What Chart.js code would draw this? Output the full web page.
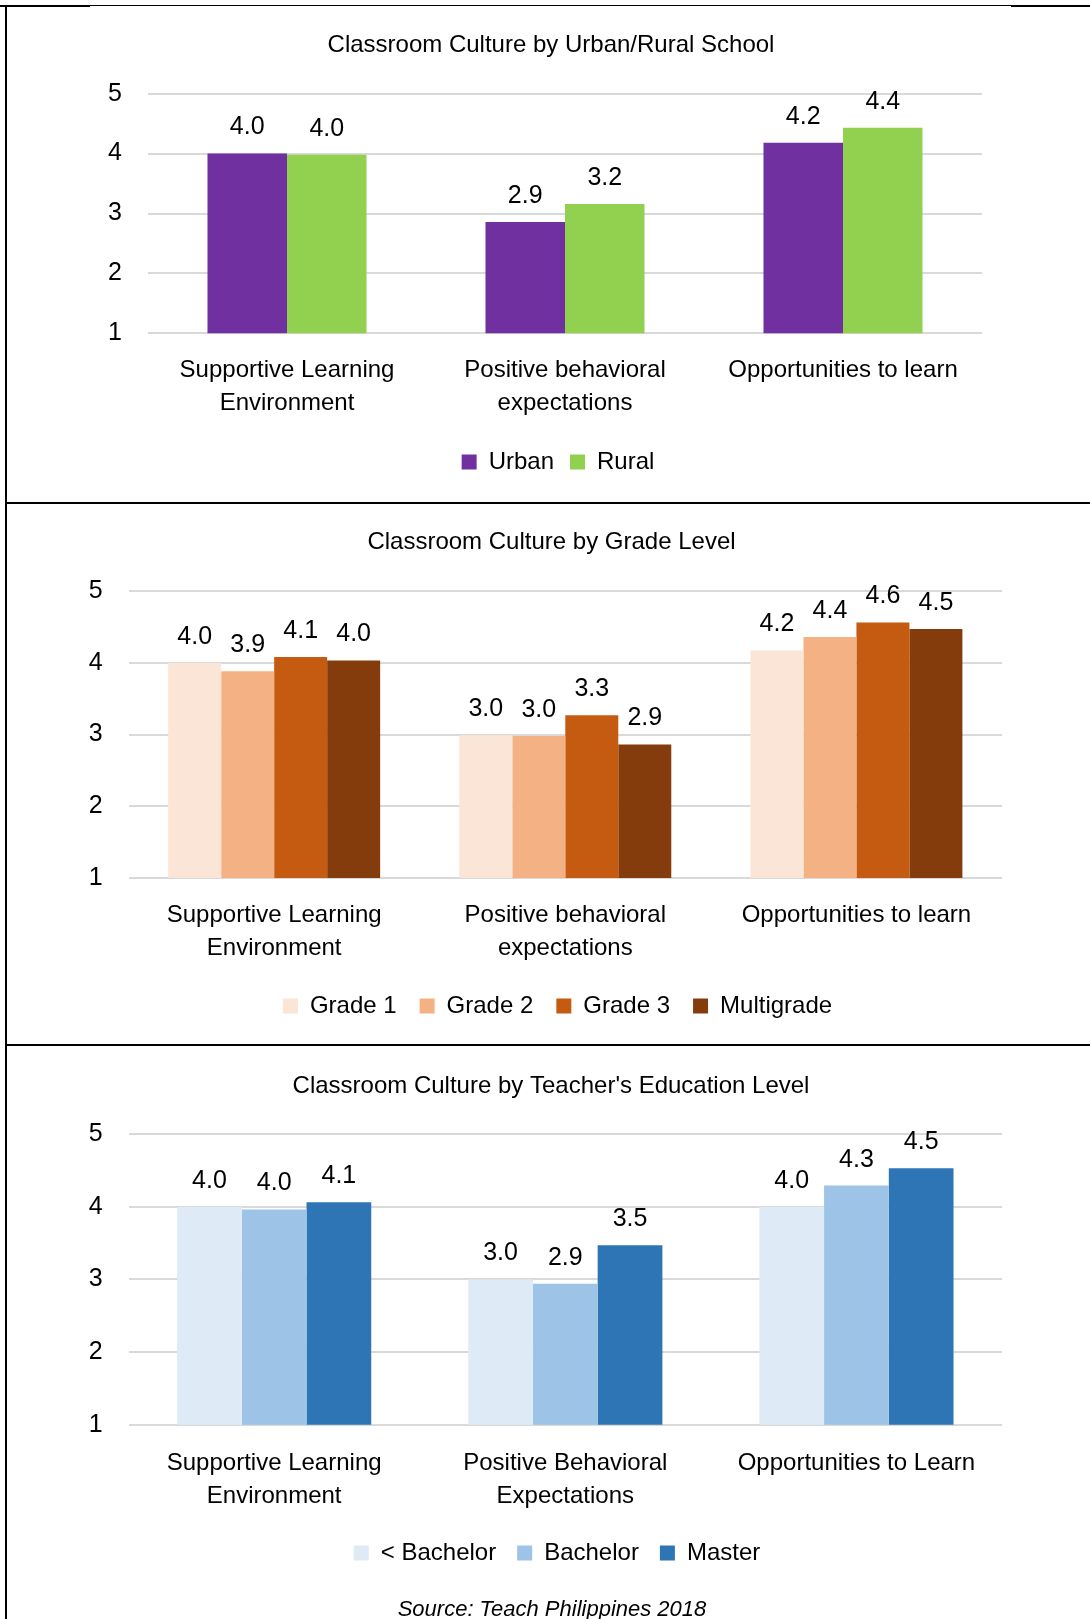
<!DOCTYPE html>
<html>
<head>
<meta charset="utf-8">
<title>Classroom Culture</title>
<script src="https://cdn.jsdelivr.net/npm/chart.js@4.4.1/dist/chart.umd.min.js"></script>
<style>
  html, body { margin: 0; padding: 0; background: #fff; overflow: hidden; }
  #page { position: relative; width: 1090px; height: 1619px; overflow: hidden; }
  canvas { position: absolute; left: 12px; }
  .rule { position: absolute; background: #000; z-index: 2; }
  #source {
    position: absolute; left: 0; width: 1104px; top: 1594px;
    text-align: center; font: italic 22px/30px 'Liberation Sans', Arial, sans-serif;
    color: #000;
  }
</style>
</head>
<body>
<div id="page">
  <canvas id="chartUrbanRural" width="1078" height="502" style="top:0px"></canvas>
  <canvas id="chartGrade" width="1079" height="543" style="top:502px"></canvas>
  <canvas id="chartEducation" width="1078" height="574" style="top:1045px"></canvas>

  <div class="rule" style="left:0;top:5px;width:1090px;height:1px"></div>
  <div class="rule" style="left:0;top:5px;width:90px;height:2px"></div>
  <div class="rule" style="left:1011px;top:5px;width:79px;height:2px"></div>
  <div class="rule" style="left:5px;top:5px;width:2px;height:1614px"></div>
  <div class="rule" style="left:5px;top:502px;width:1085px;height:2px"></div>
  <div class="rule" style="left:5px;top:1044px;width:1085px;height:2px"></div>

  <div id="source">Source: Teach Philippines 2018</div>
</div>

<script>
// categories
const areas = [['Supportive Learning', 'Environment'], ['Positive behavioral', 'expectations'], 'Opportunities to learn'];
const areasCaps = [['Supportive Learning', 'Environment'], ['Positive Behavioral', 'Expectations'], 'Opportunities to Learn'];
const scoreTicks = [1, 2, 3, 4, 5];

// urban / rural
const urban = [4.0, 2.86, 4.18];
const rural = [3.98, 3.16, 4.43];

// grade level
const grade1 = [4.0, 2.99, 4.17];
const grade2 = [3.88, 2.98, 4.36];
const grade3 = [4.08, 3.27, 4.56];
const multigrade = [4.03, 2.86, 4.47];

// teacher education
const belowBachelor = [4.0, 3.0, 4.0];
const bachelor = [3.96, 2.94, 4.29];
const master = [4.06, 3.47, 4.53];

const FONT = "'Liberation Sans', Arial, sans-serif";
Chart.defaults.font.family = FONT;
Chart.defaults.color = '#000';

// value printed above every bar
const barValueLabels = {
    id: 'barValueLabels',
    afterDatasetsDraw(chart) {
        const ctx = chart.ctx;
        ctx.save();
        ctx.font = '25px ' + FONT;
        ctx.fillStyle = '#000';
        ctx.textAlign = 'center';
        ctx.textBaseline = 'middle';
        chart.data.datasets.forEach((ds, i) => {
            chart.getDatasetMeta(i).data.forEach((bar, j) => {
                ctx.fillText(ds.data[j].toFixed(1), bar.x, bar.y - 26);
            });
        });
        ctx.restore();
    }
};

// nudge the legend row sideways a little after layout
const legendNudge = {
    id: 'legendNudge',
    afterLayout(chart, args, opts) {
        const lg = chart.legend;
        if (lg && opts.dx) {
            lg.left += opts.dx;
            lg.right += opts.dx;
        }
    }
};

function makeChart(id, cfg) {
    const ctx = document.getElementById(id).getContext('2d');
    return new Chart(ctx, {
        type: 'bar',
        data: {
            labels: cfg.labels,
            datasets: cfg.series.map(s => ({
                label: s.name,
                data: s.data,
                backgroundColor: s.color,
                borderWidth: 0,
                barPercentage: 1.0,
                categoryPercentage: cfg.groupWidth
            }))
        },
        options: {
            responsive: false,
            animation: false,
            devicePixelRatio: 1,
            layout: {
                padding: { left: 0, right: 0, top: 0, bottom: cfg.padBottom }
            },
            scales: {
                x: {
                    grid: { display: false, drawTicks: false },
                    border: { display: false },
                    ticks: {
                        padding: cfg.xPad,
                        maxRotation: 0,
                        autoSkip: false,
                        font: { size: 24, lineHeight: 1.375 }
                    },
                    afterFit: function (scale) { scale.height = cfg.xHeight; }
                },
                y: {
                    min: scoreTicks[0],
                    max: scoreTicks[scoreTicks.length - 1],
                    grid: { color: '#d9d9d9', lineWidth: 2, drawTicks: false },
                    border: { display: false },
                    ticks: { stepSize: 1, padding: 26, font: { size: 25 } },
                    afterFit: function (scale) { scale.width = cfg.yWidth; }
                },
                // empty right-hand axis, only keeps the plot clear of the right edge
                yRight: {
                    axis: 'y',
                    type: 'linear',
                    position: 'right',
                    grid: { display: false, drawTicks: false },
                    border: { display: false },
                    ticks: { display: false },
                    afterFit: function (scale) { scale.width = cfg.rightWidth; }
                }
            },
            plugins: {
                title: {
                    display: true,
                    text: cfg.title,
                    color: '#000',
                    font: { size: 24, weight: 'normal', lineHeight: 1.2 },
                    padding: { top: cfg.titleTop, bottom: cfg.titleBottom }
                },
                legend: {
                    position: 'bottom',
                    labels: {
                        boxWidth: 15,
                        boxHeight: 15,
                        padding: cfg.legendGap,
                        color: '#000',
                        font: { size: 24 }
                    }
                },
                legendNudge: { dx: cfg.legendShift },
                tooltip: { enabled: false }
            }
        },
        plugins: [barValueLabels, legendNudge]
    });
}

makeChart('chartUrbanRural', {
    title: 'Classroom Culture by Urban/Rural School',
    labels: areas,
    series: [
        { name: 'Urban', data: urban, color: '#7030a0' },
        { name: 'Rural', data: rural, color: '#92d050' }
    ],
    groupWidth: 0.572,
    yWidth: 136, rightWidth: 108,
    padBottom: 18, xHeight: 100.7, xPad: 21,
    titleTop: 30.6, titleBottom: 34.3,
    legendGap: 16, legendShift: 7
});

makeChart('chartGrade', {
    title: 'Classroom Culture by Grade Level',
    labels: areas,
    series: [
        { name: 'Grade 1', data: grade1, color: '#fbe5d6' },
        { name: 'Grade 2', data: grade2, color: '#f4b183' },
        { name: 'Grade 3', data: grade3, color: '#c55a11' },
        { name: 'Multigrade', data: multigrade, color: '#843c0c' }
    ],
    groupWidth: 0.728,
    yWidth: 116.6, rightWidth: 89,
    padBottom: 17, xHeight: 93, xPad: 21,
    titleTop: 25.6, titleBottom: 34.6,
    legendGap: 23, legendShift: 6
});

makeChart('chartEducation', {
    title: "Classroom Culture by Teacher's Education Level",
    labels: areasCaps,
    series: [
        { name: '< Bachelor', data: belowBachelor, color: '#deebf7' },
        { name: 'Bachelor', data: bachelor, color: '#9dc3e6' },
        { name: 'Master', data: master, color: '#2e75b6' }
    ],
    groupWidth: 0.667,
    yWidth: 116.6, rightWidth: 88,
    padBottom: 44, xHeight: 95.2, xPad: 21.7,
    titleTop: 27.1, titleBottom: 33.1,
    legendGap: 21, legendShift: 6
});
</script>
</body>
</html>
